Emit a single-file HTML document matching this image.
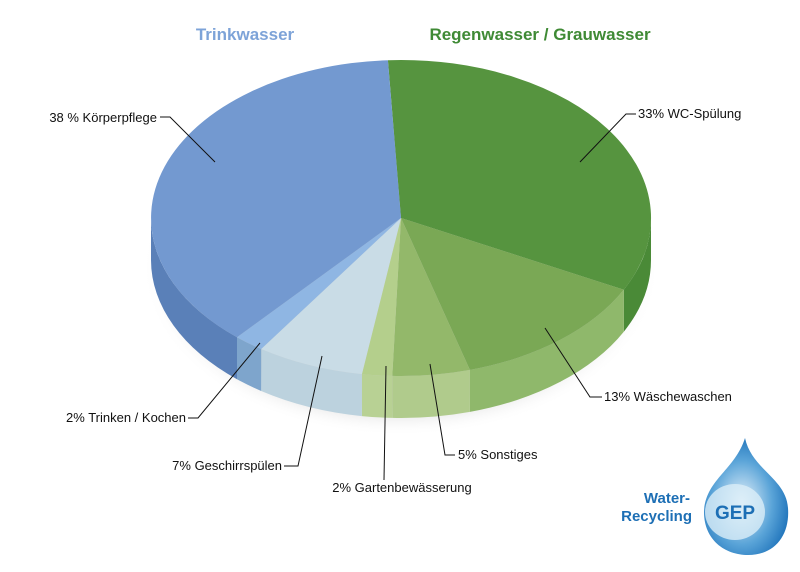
<!DOCTYPE html><html><head><meta charset="utf-8"><style>
body{margin:0;background:#fff;width:800px;height:567px;overflow:hidden}
svg text{font-family:"Liberation Sans",sans-serif}
</style></head><body>
<svg id="s" width="800" height="567" viewBox="0 0 800 567" xmlns="http://www.w3.org/2000/svg">
<defs>
<radialGradient id="drop" cx="0.45" cy="0.55" r="0.6"><stop offset="0" stop-color="#e8f3fb"/><stop offset="0.6" stop-color="#5aa4d8"/><stop offset="1" stop-color="#1a6fb8"/></radialGradient>
<radialGradient id="sh" cx="0.5" cy="0.5" r="0.5"><stop offset="0.8" stop-color="#999" stop-opacity="0.5"/><stop offset="1" stop-color="#fff" stop-opacity="0"/></radialGradient>
</defs>
<ellipse cx="401" cy="268" rx="258" ry="168" fill="url(#sh)"/>
<g id="pie"></g>
<text x="245" y="40" text-anchor="middle" font-size="17" font-weight="bold" fill="#7da3d8">Trinkwasser</text>
<text x="540" y="40" text-anchor="middle" font-size="17" font-weight="bold" fill="#3f8a35">Regenwasser / Grauwasser</text>
<g font-size="13" fill="#111">
<text x="157" y="122" text-anchor="end">38 % Körperpflege</text>
<text x="638" y="118">33% WC-Spülung</text>
<text x="604" y="401">13% Wäschewaschen</text>
<text x="458" y="459">5% Sonstiges</text>
<text x="402" y="492" text-anchor="middle">2% Gartenbewässerung</text>
<text x="282" y="470" text-anchor="end">7% Geschirrspülen</text>
<text x="186" y="422" text-anchor="end">2% Trinken / Kochen</text>
</g>
<g stroke="#111" stroke-width="1" fill="none">
<polyline points="160,117 170,117 215,162"/>
<polyline points="636,114 626,114 580,162"/>
<polyline points="602,397 590,397 545,328"/>
<polyline points="455,455 445,455 430,364"/>
<polyline points="384,480 386,366"/>
<polyline points="284,466 298,466 322,356"/>
<polyline points="188,418 198,418 260,343"/>
</g>
<path d="M745,438 C735,470 705,480 704,512 C704,540 725,555 748,555 C775,555 790,535 788,508 C786,478 752,470 745,438 Z" fill="url(#drop)"/>
<ellipse cx="735" cy="512" rx="30" ry="28" fill="#dbeef8" opacity="0.8"/>
<text x="735" y="519" text-anchor="middle" font-size="19" font-weight="bold" fill="#1d6fb5">GEP</text>
<text x="690" y="503" text-anchor="end" font-size="15" font-weight="bold" fill="#1d6fb5">Water-</text>
<text x="692" y="521" text-anchor="end" font-size="15" font-weight="bold" fill="#1d6fb5">Recycling</text>
</svg>
<script>
var cx=401,cy=218,rx=250,ry=158,d=42;
var sl=[[-93,27,'#56943f','#4a8a37'],[27,74,'#7aa855','#8fb86b'],[74,92,'#93b86a','#b0cb8c'],[92,99,'#b4cf8c','#b8d194'],[99,124,'#c9dce6','#bcd2de'],[124,131,'#8fb6e3','#7ea5cc'],[131,267,'#7399d0','#5a80b8']];
function P(a,dy){a=a*Math.PI/180;return [(cx+rx*Math.cos(a)).toFixed(1),(cy+ry*Math.sin(a)+(dy||0)).toFixed(1)];}
var h='';
sl.forEach(function(s){var a0=Math.max(s[0],0),a1=Math.min(s[1],180);
 if(a1>a0){var p0=P(a0),p1=P(a1),q1=P(a1,d),q0=P(a0,d);
 h+='<path d="M'+p0+' A'+rx+','+ry+' 0 0 1 '+p1+' L'+q1+' A'+rx+','+ry+' 0 0 0 '+q0+' Z" fill="'+s[3]+'"/>';}});
sl.forEach(function(s){var p0=P(s[0]),p1=P(s[1]),lg=(s[1]-s[0]>180)?1:0;
 h+='<path d="M'+cx+','+cy+' L'+p0+' A'+rx+','+ry+' 0 '+lg+' 1 '+p1+' Z" fill="'+s[2]+'"/>';});
document.getElementById('pie').innerHTML=h;
</script>
</body></html>
